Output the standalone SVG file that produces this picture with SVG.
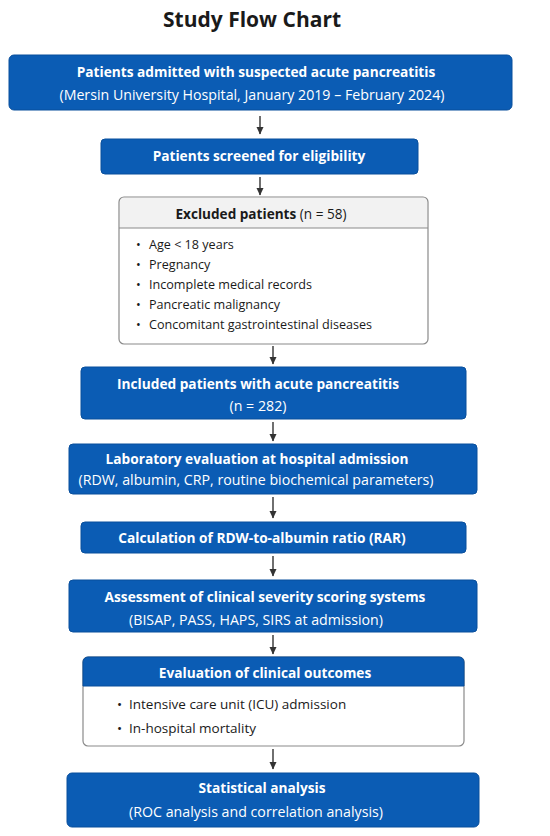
<svg xmlns="http://www.w3.org/2000/svg" width="550" height="836" viewBox="0 0 550 836">
<defs>
<marker id="ah" markerWidth="8" markerHeight="8" refX="7" refY="4" orient="auto" markerUnits="userSpaceOnUse" viewBox="0 0 8 8">
<path d="M0,0.5 L7.5,4 L0,7.5 Z" fill="#333"/>
</marker>
</defs>
<style>
.bg{fill:#ffffff}
.blue{fill:#0b5cb4;stroke:#094f9c;stroke-width:1}
.wbox{fill:#ffffff;stroke:#8a8a8a;stroke-width:1.2}
.ghead{fill:#f2f2f2}
.t{font-family:"Open Sans","Noto Sans",sans-serif;text-anchor:middle}
.h{font-weight:700;fill:#ffffff;font-size:13.7px}
.s{font-weight:400;fill:#ffffff;font-size:14.2px}
.dk{fill:#1a1a1a}
.b{font-family:"Open Sans","Noto Sans",sans-serif;font-size:12.6px;fill:#1a1a1a}
.b2{font-family:"Open Sans","Noto Sans",sans-serif;font-size:13.5px;fill:#1a1a1a}
.c line{stroke:#333;stroke-width:1.4;marker-end:url(#ah)}
</style>
<rect class="bg" width="550" height="836"/>
<text class="t dk" x="252" y="27" font-size="21" font-weight="700">Study Flow Chart</text>

<g id="n1">
<rect class="blue" x="9" y="55" width="503" height="55" rx="5"/>
<text class="t h" x="256" y="77">Patients admitted with suspected acute pancreatitis</text>
<text class="t s" x="252" y="100">(Mersin University Hospital, January 2019 – February 2024)</text>
</g>

<g id="n2">
<rect class="blue" x="101" y="139" width="317" height="35" rx="4"/>
<text class="t h" x="259" y="161">Patients screened for eligibility</text>
</g>

<g id="n3">
<rect class="wbox" x="119" y="197" width="309" height="147" rx="5"/>
<path class="ghead" d="M120,228 V202 a4,4 0 0 1 4,-4 H423 a4,4 0 0 1 4,4 V228 Z"/>
<line x1="119" y1="228" x2="428" y2="228" stroke="#8a8a8a" stroke-width="1.2"/>
<text class="t dk" x="261" y="219" font-size="13.6"><tspan font-weight="700">Excluded patients</tspan> (n = 58)</text>
<g class="b">
<text x="136" y="249">•</text><text x="149" y="249">Age &lt; 18 years</text>
<text x="136" y="269">•</text><text x="149" y="269">Pregnancy</text>
<text x="136" y="289">•</text><text x="149" y="289">Incomplete medical records</text>
<text x="136" y="309">•</text><text x="149" y="309">Pancreatic malignancy</text>
<text x="136" y="329">•</text><text x="149" y="329">Concomitant gastrointestinal diseases</text>
</g>
</g>

<g id="n4">
<rect class="blue" x="81" y="367" width="385" height="52" rx="4"/>
<text class="t h" x="258" y="389">Included patients with acute pancreatitis</text>
<text class="t s" x="258" y="411">(n = 282)</text>
</g>

<g id="n5">
<rect class="blue" x="69" y="444" width="408" height="50" rx="4"/>
<text class="t h" x="257" y="464">Laboratory evaluation at hospital admission</text>
<text class="t s" x="256" y="485">(RDW, albumin, CRP, routine biochemical parameters)</text>
</g>

<g id="n6">
<rect class="blue" x="81" y="522" width="385" height="31" rx="4"/>
<text class="t h" x="262" y="543">Calculation of RDW-to-albumin ratio (RAR)</text>
</g>

<g id="n7">
<rect class="blue" x="69" y="580" width="408" height="52" rx="4"/>
<text class="t h" x="265" y="602">Assessment of clinical severity scoring systems</text>
<text class="t s" x="256" y="625">(BISAP, PASS, HAPS, SIRS at admission)</text>
</g>

<g id="n8">
<rect class="wbox" x="83" y="657" width="381" height="89" rx="5"/>
<path class="blue" d="M83,686 V662 a5,5 0 0 1 5,-5 H459 a5,5 0 0 1 5,5 V686 Z"/>
<text class="t h" x="265" y="678">Evaluation of clinical outcomes</text>
<g class="b2">
<text x="117" y="709">•</text><text x="129" y="709">Intensive care unit (ICU) admission</text>
<text x="117" y="733">•</text><text x="129" y="733">In-hospital mortality</text>
</g>
</g>

<g id="n9">
<rect class="blue" x="67" y="773" width="412" height="54" rx="5"/>
<text class="t h" x="262" y="793">Statistical analysis</text>
<text class="t s" x="256" y="817">(ROC analysis and correlation analysis)</text>
</g>

<g id="connectors" class="c">
<line x1="260" y1="116" x2="260" y2="134"/>
<line x1="260" y1="177" x2="260" y2="195"/>
<line x1="273" y1="346" x2="273" y2="364"/>
<line x1="273" y1="422" x2="273" y2="441"/>
<line x1="273" y1="497" x2="273" y2="518"/>
<line x1="273" y1="556" x2="273" y2="576"/>
<line x1="273" y1="635" x2="273" y2="654"/>
<line x1="273" y1="749" x2="273" y2="769"/>
</g>
</svg>
